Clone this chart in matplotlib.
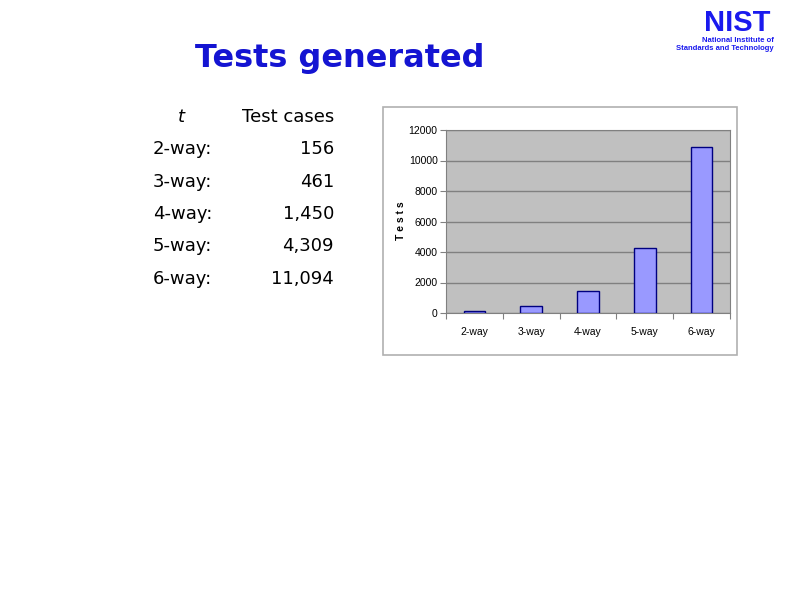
import matplotlib.pyplot as plt
from matplotlib.patches import Rectangle

# table data
row_labels = ['2-way:', '3-way:', '4-way:', '5-way:', '6-way:']
test_cases = ['156', '461', '1,450', '4,309', '11,094']

# chart data
categories = ['2-way', '3-way', '4-way', '5-way', '6-way']
tests = [110, 440, 1420, 4250, 10890]
y_ticks = [0, 2000, 4000, 6000, 8000, 10000, 12000]

W, H = 794, 595
fig = plt.figure(figsize=(W / 100, H / 100), dpi=100)
fig.patch.set_facecolor('white')

def fx(px):
    return px / W

def fy(py):
    return 1 - py / H

# title
fig.text(fx(340), fy(58), 'Tests generated', ha='center', va='center',
         fontsize=23, fontweight='bold', color='#1414d2', family='DejaVu Sans')

# NIST logo as text
fig.text(fx(771), fy(23), 'NIST', ha='right', va='center', fontsize=21,
         fontweight='heavy', color='#1a1aee', family='Liberation Sans')
fig.text(fx(774), fy(41), 'National Institute of', ha='right', va='center',
         fontsize=5.5, fontweight='bold', color='#1a1aee', family='Liberation Sans')
fig.text(fx(774), fy(49), 'Standards and Technology', ha='right', va='center',
         fontsize=5.5, fontweight='bold', color='#1a1aee', family='Liberation Sans')

# table
tfont = dict(fontsize=13, color='black', family='DejaVu Sans', va='center')
fig.text(fx(181), fy(117), 't', ha='center', style='italic', **tfont)
fig.text(fx(334), fy(117), 'Test cases', ha='right', **tfont)
row_y = [149, 182, 214, 246, 279]
for lab, val, y in zip(row_labels, test_cases, row_y):
    fig.text(fx(153), fy(y), lab, ha='left', **tfont)
    fig.text(fx(334), fy(y), val, ha='right', **tfont)

# outer chart frame
frame = Rectangle((fx(383), fy(355)), (737 - 383) / W, (355 - 107) / H,
                  transform=fig.transFigure, facecolor='none',
                  edgecolor='#b0b0b0', linewidth=1.2, zorder=5)
fig.add_artist(frame)

ax = fig.add_axes([fx(446), fy(313), (730 - 446) / W, (313 - 130) / H])
ax.set_facecolor('#c0c0c0')
ax.bar(range(len(categories)), tests, width=0.38, color='#9999ff',
       edgecolor='#000080', linewidth=1.0, zorder=3)
ax.set_xlim(-0.5, len(categories) - 0.5)
ax.set_ylim(0, 12000)
ax.set_yticks(y_ticks)
ax.set_yticklabels([str(v) for v in y_ticks], fontsize=7.5, family='Liberation Sans')
ax.yaxis.grid(True, color='#808080', linewidth=1.0, zorder=1)
ax.set_axisbelow(True)

# category labels centred, tick marks between categories
ax.set_xticks([i + 0.5 for i in range(-1, len(categories))])
ax.set_xticklabels([])
ax.set_xticks(range(len(categories)), minor=True)
ax.set_xticklabels(categories, minor=True, fontsize=7.5, family='Liberation Sans')
ax.tick_params(axis='x', which='minor', length=0, pad=10)
ax.tick_params(axis='x', which='major', length=4, color='#808080')
ax.tick_params(axis='y', length=4, color='#808080', pad=2)

for side in ['top', 'right', 'left', 'bottom']:
    ax.spines[side].set_color('#808080')

fig.text(fx(401), fy(221), 'T e s t s', rotation=90, ha='center', va='center',
         fontsize=7.5, fontweight='bold', family='Liberation Sans')

plt.savefig('out.png', dpi=100)
